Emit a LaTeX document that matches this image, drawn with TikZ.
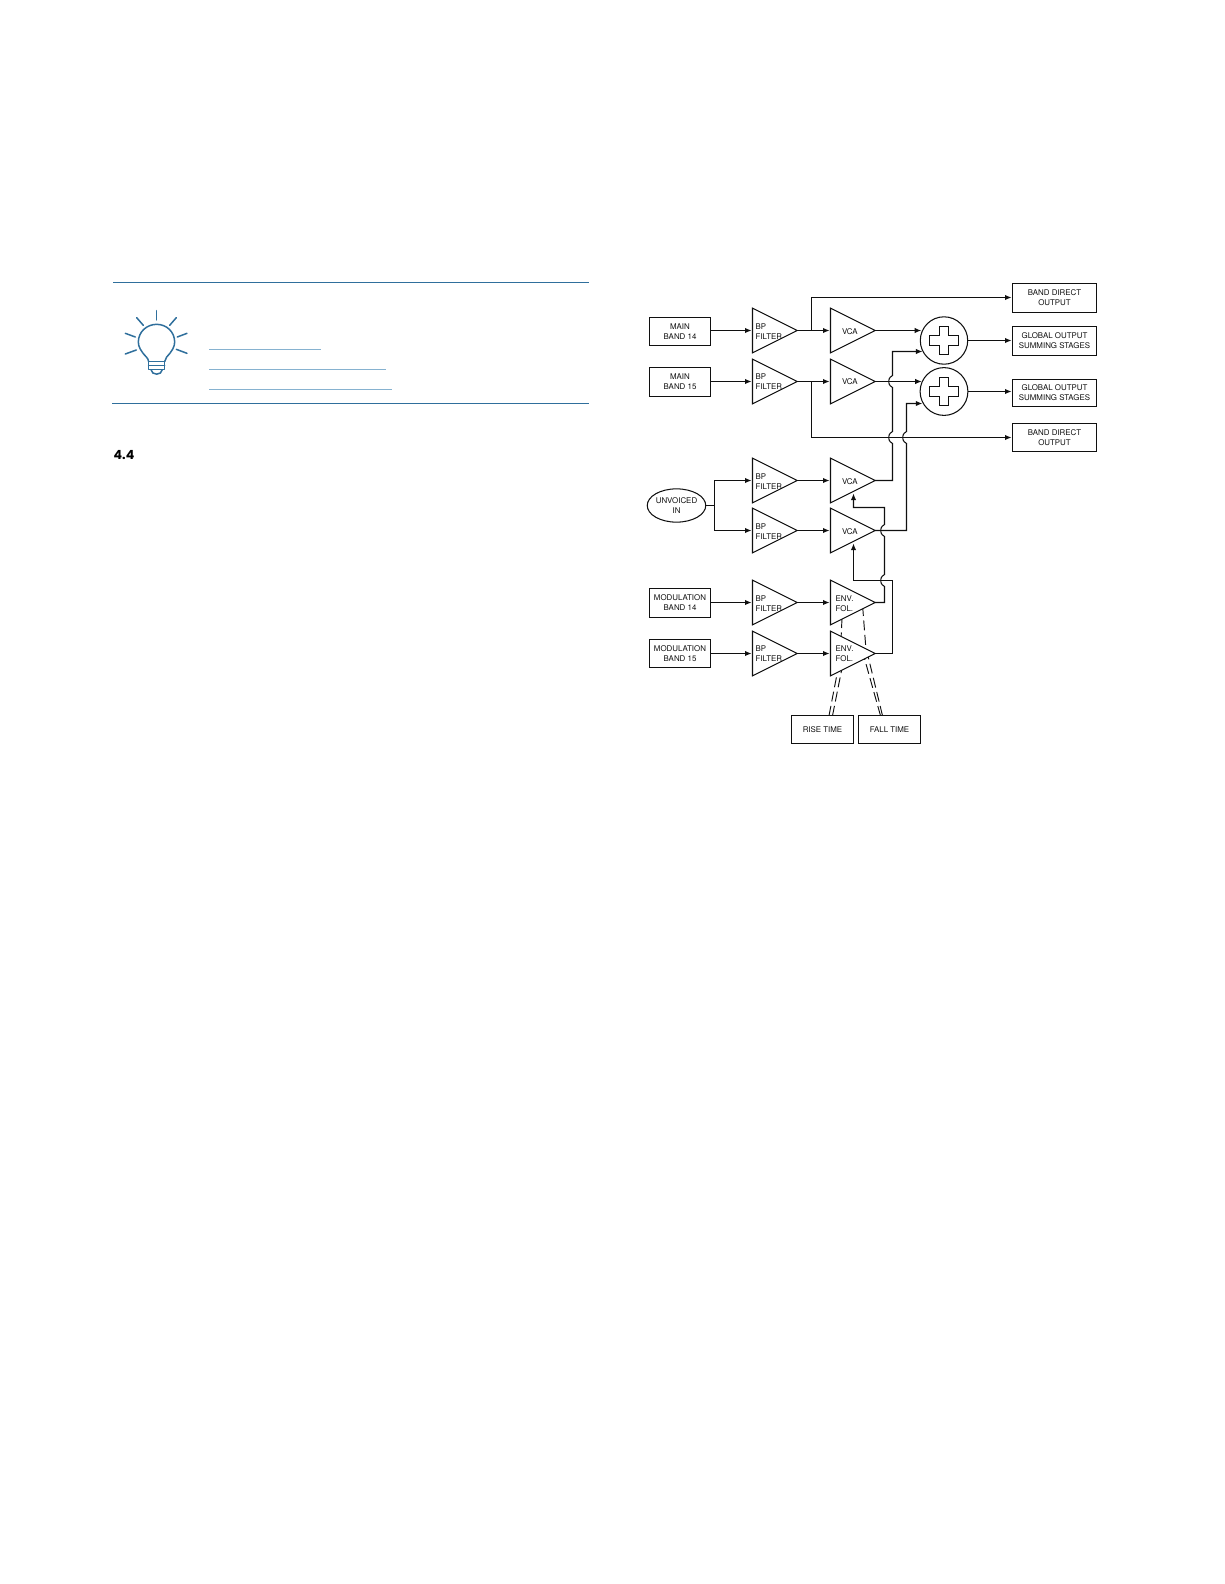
\documentclass[tikz,border=0pt]{standalone}
\usepackage{fontspec}
\setmainfont{TeX Gyre Heros}
\newfontfamily\headfont{Poppins}
\usetikzlibrary{shapes.geometric,arrows.meta,positioning}
\definecolor{rulecol}{HTML}{2F6F9C}
\definecolor{linkcol}{HTML}{86B2D0}
\definecolor{inkcol}{HTML}{101010}
\tikzset{
  diag/.style={line width=1.05pt,draw=inkcol,line join=miter},
  wire/.style={diag},
  arrowwire/.style={diag,-{Latex[length=6.5pt,width=5.4pt]},shorten >=1pt},
  dashwire/.style={draw=inkcol,line width=0.95pt,dash pattern=on 10pt off 4.5pt},
  boxnode/.style={diag,rectangle,inner sep=0pt,outer sep=0pt,align=center,text=inkcol,
    font=\fontsize{7.9}{10}\selectfont},
  ovalnode/.style={boxnode,ellipse},
  tri/.style={diag,fill=white,isosceles triangle,isosceles triangle stretches,shape border rotate=0,
    minimum width=44.7pt,minimum height=44.7pt,inner sep=0pt,outer sep=0pt,anchor=lower side},
  trilabel/.style={inner sep=0pt,outer sep=0pt,align=left,text=inkcol,anchor=west,
    font=\fontsize{7.9}{10}\selectfont},
  sumnode/.style={diag,circle,inner sep=0pt,outer sep=0pt},
  plusglyph/.style={insert path={
    +(-4.7,-14) -- +(4.7,-14) -- +(4.7,-5) -- +(14.3,-5) -- +(14.3,5) -- +(4.7,5)
    -- +(4.7,14) -- +(-4.7,14) -- +(-4.7,5) -- +(-14.3,5) -- +(-14.3,-5) -- +(-4.7,-5) -- cycle}},
  hopup/.style 2 args={insert path={
    -- (#1,#2+6) .. controls (#1-1.6,#2+5.4) and (#1-3.8,#2+3.4) .. (#1-3.8,#2)
    .. controls (#1-3.8,#2-3.4) and (#1-1.6,#2-5.4) .. (#1,#2-6)}},
  rulestyle/.style={draw=rulecol,line width=1.25pt},
  linkstyle/.style={draw=linkcol,line width=1pt},
  bulbstyle/.style={draw=rulecol,line width=1.5pt,line cap=round,line join=round},
}
\begin{document}
\begin{tikzpicture}[x=1pt,y=-1pt]
\useasboundingbox (0,0) rectangle (1224,1584);

% left panel
\draw[rulestyle] (113,282.5) -- (589,282.5);
\draw[rulestyle] (112,403.5) -- (589,403.5);
\draw[linkstyle] (209,349.5) -- (321,349.5);
\draw[linkstyle] (209,369.5) -- (386,369.5);
\draw[linkstyle] (209,389.5) -- (392,389.5);
\node[inner sep=0pt,anchor=west,text=black,font=\headfont\bfseries\fontsize{12.6}{14}\selectfont] (secnum) at (113.5,455.5) {4.4};

\begin{scope}[shift={(100,270)}]
\begin{scope}[x=0.3333pt,y=-0.3333pt,bulbstyle]
  % y runs downwards: the numbers are 3x offsets from the panel corner
  \draw (146,275) .. controls (146,268) and (142,266) .. (139,261)
        .. controls (122,243) and (115,230) .. (115,216)
        .. controls (115,186) and (140,163) .. (170,163)
        .. controls (200,163) and (224,186) .. (224,216)
        .. controls (224,230) and (217,243) .. (200,261)
        .. controls (197,266) and (194,268) .. (194,275);
  \draw (146,275) rectangle (194,299);
  \draw (146,287) -- (194,287);
  \draw (153,299) .. controls (155,317) and (185,317) .. (187,299);
  \draw (170,122) -- (170,150);
  \draw (110,143) -- (130,166);
  \draw (229,143) -- (209,166);
  \draw (76,190) -- (106,201);
  \draw (261,190) -- (232,201);
  \draw (76,252) -- (109,240);
  \draw (261,250) -- (229,238);
\end{scope}
\end{scope}

% dashed time control lines, behind the triangles
\coordinate (ra) at (829,715.7);
\coordinate (rb) at (832.5,715.7);
\coordinate (rc) at (837.8,670);
\coordinate (rd) at (842,668);
\coordinate (re) at (842,618);
\coordinate (rf) at (841,640);
\coordinate (fa) at (880.5,715.7);
\coordinate (fb) at (882.5,715.7);
\coordinate (fc) at (863.5,655);
\coordinate (fd) at (867.5,654);
\coordinate (fe) at (862.6,606);
\coordinate (ff) at (866,650);
\draw[dashwire] (ra) -- (rc);
\draw[dashwire] (rb) -- (rd);
\draw[dashwire] (fa) -- (fc);
\draw[dashwire] (fb) -- (fd);
\draw[dashwire] (re) -- (rf);
\draw[dashwire] (fe) -- (ff);

% input boxes
\node[boxnode,draw,minimum width=61pt,minimum height=28pt] (m14) at (680,331.5) {MAIN\\BAND 14};
\node[boxnode,draw,minimum width=61pt,minimum height=29pt] (m15) at (680,382) {MAIN\\BAND 15};
\node[ovalnode,draw,minimum width=56.7pt,minimum height=33.3pt] (unv) at (676.5,505.5) {UNVOICED\\IN};
\node[boxnode,draw,minimum width=61pt,minimum height=29pt] (mo14) at (680,603) {MODULATION\\BAND 14};
\node[boxnode,draw,minimum width=61pt,minimum height=28pt] (mo15) at (680,653.5) {MODULATION\\BAND 15};

% filter triangles
\node[tri] (f1) at (752.5,330.5) {};
\node[tri] (f2) at (752.5,381.5) {};
\node[tri] (f3) at (752.5,480.5) {};
\node[tri] (f4) at (752.5,530.5) {};
\node[tri] (f5) at (752.5,602.5) {};
\node[tri] (f6) at (752.5,653.5) {};
\node[trilabel] (lf1) at (755.7,331.5) {BP\\FILTER};
\node[trilabel] (lf2) at (755.7,381.5) {BP\\FILTER};
\node[trilabel] (lf3) at (755.7,481.5) {BP\\FILTER};
\node[trilabel] (lf4) at (755.7,531.5) {BP\\FILTER};
\node[trilabel] (lf5) at (755.7,603.2) {BP\\FILTER};
\node[trilabel] (lf6) at (755.7,653.5) {BP\\FILTER};

% VCA triangles
\node[tri] (v1) at (830.5,330.5) {};
\node[tri] (v2) at (830.5,381.5) {};
\node[tri] (v3) at (830.5,480.5) {};
\node[tri] (v4) at (830.5,530.5) {};
\node[trilabel] (lv1) at (842,331.5) {VCA};
\node[trilabel] (lv2) at (842,381.5) {VCA};
\node[trilabel] (lv3) at (842,481.5) {VCA};
\node[trilabel] (lv4) at (842,531.5) {VCA};

% envelope followers
\node[tri] (e1) at (830.5,602.5) {};
\node[tri] (e2) at (830.5,653.5) {};
\node[trilabel] (le1) at (835.7,603.2) {ENV.\\FOL.};
\node[trilabel] (le2) at (835.7,653.5) {ENV.\\FOL.};

% summing circles
\node[sumnode,draw,minimum size=47.4pt] (s1) at (944,340.5) {};
\node[sumnode,draw,minimum size=47.8pt] (s2) at (944,391.5) {};
\draw[diag] (s1.center) [plusglyph];
\draw[diag] (s2.center) [plusglyph];

% output boxes
\node[boxnode,draw,minimum width=84pt,minimum height=29pt] (d1) at (1054.5,298) {BAND DIRECT\\OUTPUT};
\node[boxnode,draw,minimum width=84pt,minimum height=29pt] (g1) at (1054.5,341) {GLOBAL OUTPUT\\SUMMING STAGES};
\node[boxnode,draw,minimum width=84pt,minimum height=27pt] (g2) at (1054.5,393) {GLOBAL OUTPUT\\SUMMING STAGES};
\node[boxnode,draw,minimum width=84pt,minimum height=28pt] (d2) at (1054.5,437.5) {BAND DIRECT\\OUTPUT};
\node[boxnode,draw,minimum width=62pt,minimum height=28pt] (rise) at (822.5,729.5) {RISE TIME};
\node[boxnode,draw,minimum width=62pt,minimum height=28pt] (fall) at (889.5,729.5) {FALL TIME};

% band inputs to filters
\draw[arrowwire] (f1.lower side -| m14.east) -- (f1.lower side);
\draw[arrowwire] (f2.lower side -| m15.east) -- (f2.lower side);
\draw[arrowwire] (f5.lower side -| mo14.east) -- (f5.lower side);
\draw[arrowwire] (f6.lower side -| mo15.east) -- (f6.lower side);
\coordinate (ub) at (714.5,505.5);
\draw[wire] (unv.east) -- (ub);
\draw[arrowwire] (ub) |- (f3.lower side);
\draw[arrowwire] (ub) |- (f4.lower side);

% filters to amplifiers
\draw[arrowwire] (f1.apex) -- (v1.lower side);
\draw[arrowwire] (f2.apex) -- (v2.lower side);
\draw[arrowwire] (f3.apex) -- (v3.lower side);
\draw[arrowwire] (f4.apex) -- (v4.lower side);
\draw[arrowwire] (f5.apex) -- (e1.lower side);
\draw[arrowwire] (f6.apex) -- (e2.lower side);

% direct outputs
\coordinate (b1) at (811.5,330.5);
\coordinate (b2) at (811.5,381.5);
\coordinate (y1) at (811.5,297.5);
\draw[arrowwire] (b1) -- (y1) -- (y1 -| d1.west);
\draw[arrowwire] (b2) |- (d2.west);

% amplifiers to sums
\draw[arrowwire] (v1.apex) -- (v1.apex -| s1.157);
\draw[arrowwire] (v2.apex) -- (v2.apex -| s2.153);
\coordinate (c1) at (892.5,351.5);
\coordinate (c2) at (906.5,403.5);
\draw[arrowwire] (v3.apex) -- (892.5,480.5) [hopup={892.5}{437.5}] [hopup={892.5}{381.5}] -- (c1) -- (c1 -| s1.210);
\draw[arrowwire] (v4.apex) -- (906.5,530.5) [hopup={906.5}{437.5}] -- (c2) -- (c2 -| s2.210);

% sums to global outputs
\draw[arrowwire] (s1.east) -- (s1.east -| g1.west);
\draw[arrowwire] (s2.east) -- (s2.east -| g2.west);

% envelope control lines
\coordinate (k1) at (884.5,507.5);
\coordinate (k2) at (853.5,507.5);
\coordinate (k3) at (892.5,580.5);
\coordinate (k4) at (853.5,580.5);
\coordinate (t3) at (853.5,493.5);
\coordinate (t4) at (853.5,543.5);
\draw[arrowwire,shorten >=0pt] (e1.apex) -- (884.5,602.5) [hopup={884.5}{580.5}] [hopup={884.5}{530.5}] -- (k1) -- (k2) -- (t3);
\draw[arrowwire,shorten >=0pt] (e2.apex) -- (892.5,653.5) -- (k3) -- (k4) -- (t4);
\end{tikzpicture}
\end{document}
